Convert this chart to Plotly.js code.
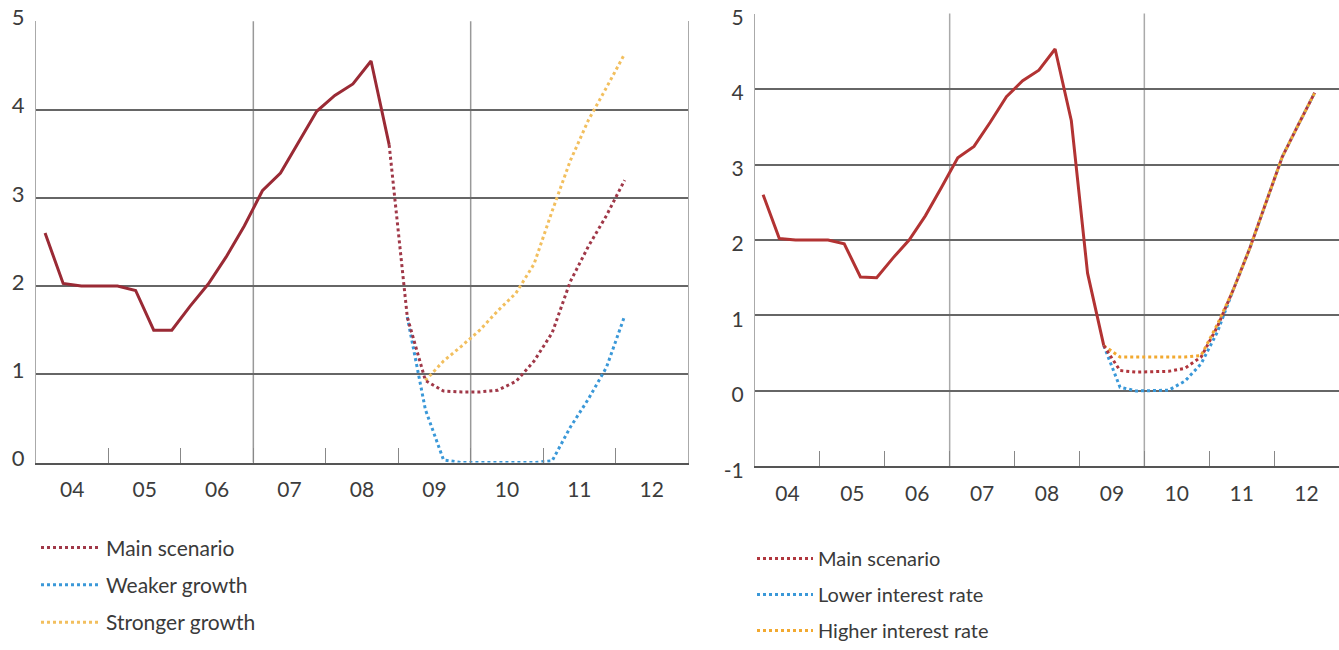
<!DOCTYPE html>
<html>
<head>
<meta charset="utf-8">
<script src="https://cdn.plot.ly/plotly-3.0.1.min.js"></script>
<style>
  html, body { margin: 0; padding: 0; background: #ffffff; }
  #chart { width: 1339px; height: 650px; }
</style>
</head>
<body>
<div id="chart"></div>
<script>
// ---------------- DATA ----------------
// Quarter labels (values plotted at mid-quarter)
var histLeftQuarters = ["2004Q1","2004Q2","2004Q3","2004Q4","2005Q1","2005Q2","2005Q3","2005Q4",
                        "2006Q1","2006Q2","2006Q3","2006Q4","2007Q1","2007Q2","2007Q3","2007Q4",
                        "2008Q1","2008Q2","2008Q3","2008Q4"];
var histLeft = [2.6, 2.03, 2.0, 2.0, 2.0, 1.95, 1.5, 1.5,
                1.77, 2.02, 2.33, 2.68, 3.08, 3.28, 3.63, 3.98,
                4.16, 4.29, 4.55, 3.6];

var mainLeftQuarters = ["2008Q4","2009Q1","2009Q2","2009Q3","2009Q4","2010Q1","2010Q2","2010Q3","2010Q4",
                        "2011Q1","2011Q2","2011Q3","2011Q4","2012Q1"];
var mainLeft = [3.6, 1.65, 0.93, 0.81, 0.8, 0.8, 0.82, 0.92, 1.15, 1.47, 2.05, 2.45, 2.8, 3.2];

var weakerQuarters = ["2009Q1","2009Q2","2009Q3","2009Q4","2010Q1","2010Q2","2010Q3","2010Q4",
                      "2011Q1","2011Q2","2011Q3","2011Q4","2012Q1"];
var weakerGrowth = [1.65, 0.6, 0.03, 0, 0, 0, 0, 0, 0.02, 0.4, 0.72, 1.08, 1.66];

var strongerQuarters = ["2009Q2","2009Q3","2009Q4","2010Q1","2010Q2","2010Q3","2010Q4",
                        "2011Q1","2011Q2","2011Q3","2011Q4","2012Q1"];
var strongerGrowth = [0.93, 1.15, 1.32, 1.5, 1.72, 1.92, 2.25, 2.85, 3.42, 3.88, 4.25, 4.63];

var histRightQuarters = ["2004Q1","2004Q2","2004Q3","2004Q4","2005Q1","2005Q2","2005Q3","2005Q4",
                         "2006Q1","2006Q2","2006Q3","2006Q4","2007Q1","2007Q2","2007Q3","2007Q4",
                         "2008Q1","2008Q2","2008Q3","2008Q4","2009Q1","2009Q2"];
var histRight = [2.6, 2.02, 2.0, 2.0, 2.0, 1.95, 1.51, 1.5,
                 1.76, 2.0, 2.32, 2.7, 3.09, 3.24, 3.56, 3.9,
                 4.11, 4.25, 4.53, 3.58, 1.56, 0.6];

var scenRightQuarters = ["2009Q2","2009Q3","2009Q4","2010Q1","2010Q2","2010Q3","2010Q4",
                         "2011Q1","2011Q2","2011Q3","2011Q4","2012Q1","2012Q2","2012Q3"];
var mainRight   = [0.6, 0.27, 0.25, 0.25, 0.26, 0.3, 0.45, 0.85, 1.35, 1.89, 2.5, 3.1, 3.53, 3.95];
var lowerRate   = [0.6, 0.05, 0, 0, 0.01, 0.13, 0.36, 0.78, 1.35, 1.89, 2.5, 3.1, 3.53, 3.95];
var higherRate  = [0.6, 0.45, 0.45, 0.45, 0.45, 0.45, 0.47, 0.88, 1.35, 1.89, 2.5, 3.1, 3.53, 3.95];

var yearLabels = ["04","05","06","07","08","09","10","11","12"];
var leftYTicks = [0, 1, 2, 3, 4, 5];
var leftYLabels = ["0","1","2","3","4","5"];
var rightYTicks = [-1, 0, 1, 2, 3, 4, 5];
var rightYLabels = ["-1","0","1","2","3","4","5"];
var firstYear = 2004;
var gridYears = [2007, 2010];

// ---------------- HELPERS ----------------
function qToX(q) { // "2004Q1" -> mid-quarter decimal year
  var y = parseInt(q.slice(0, 4), 10), n = parseInt(q.slice(5), 10);
  return y + (n - 0.5) / 4;
}
function xs(arr) { return arr.map(qToX); }

var labelPos = yearLabels.map(function (_, i) { return firstYear + i + 0.5; });
var boundaries = yearLabels.slice(1).map(function (_, i) { return firstYear + i + 1; });
var xRange = [firstYear, firstYear + yearLabels.length];

var W = 1339, H = 650;
function px(x) { return x / W; }
function py(y) { return 1 - y / H; }

var FONT = "Lato, 'Open Sans', sans-serif";
var dotDash = "3px,3px";

var cSolidL = "#9a2a35", cMainL = "#a03848", cBlue = "#3a98d8", cOrangeL = "#f2bf5e";
var cSolidR = "#b23333", cMainR = "#b0363d", cOrangeR = "#f2a930";

// ---------------- TRACES ----------------
var traces = [
  // left panel
  { x: xs(histLeftQuarters), y: histLeft, xaxis: "x", yaxis: "y", mode: "lines",
    line: { color: cSolidL, width: 3 }, showlegend: false, hoverinfo: "skip" },
  { x: xs(weakerQuarters), y: weakerGrowth, xaxis: "x", yaxis: "y", mode: "lines", name: "Weaker growth",
    line: { color: cBlue, width: 3, dash: dotDash }, legend: "legend", legendgroup: "l2", legendrank: 2 },
  { x: xs(strongerQuarters), y: strongerGrowth, xaxis: "x", yaxis: "y", mode: "lines", name: "Stronger growth",
    line: { color: cOrangeL, width: 3, dash: dotDash }, legend: "legend", legendgroup: "l3", legendrank: 3 },
  { x: xs(mainLeftQuarters), y: mainLeft, xaxis: "x", yaxis: "y", mode: "lines", name: "Main scenario",
    line: { color: cMainL, width: 3, dash: dotDash }, legend: "legend", legendgroup: "l1", legendrank: 1 },
  // right panel
  { x: xs(histRightQuarters), y: histRight, xaxis: "x2", yaxis: "y2", mode: "lines",
    line: { color: cSolidR, width: 3 }, showlegend: false, hoverinfo: "skip" },
  { x: xs(scenRightQuarters), y: lowerRate, xaxis: "x2", yaxis: "y2", mode: "lines", name: "Lower interest rate",
    line: { color: cBlue, width: 3, dash: dotDash }, legend: "legend2", legendgroup: "r2", legendrank: 2 },
  { x: xs(scenRightQuarters), y: higherRate, xaxis: "x2", yaxis: "y2", mode: "lines", name: "Higher interest rate",
    line: { color: cOrangeR, width: 3, dash: dotDash }, legend: "legend2", legendgroup: "r3", legendrank: 3 },
  { x: xs(scenRightQuarters), y: mainRight, xaxis: "x2", yaxis: "y2", mode: "lines", name: "Main scenario",
    line: { color: cMainR, width: 3, dash: dotDash }, legend: "legend2", legendgroup: "r1", legendrank: 1 }
];

// ---------------- LAYOUT ----------------
function xAxis(domain, anchor, fsize) {
  return {
    domain: domain, anchor: anchor, range: xRange, fixedrange: true,
    tickmode: "array", tickvals: labelPos, ticktext: yearLabels, ticks: "",
    tickfont: { family: FONT, size: fsize, color: "#3c3c3c" }, ticklabelstandoff: 7,
    showgrid: false, zeroline: false,
    showline: true, linecolor: "#555", linewidth: 2,
    minor: { tickmode: "array", tickvals: boundaries, ticks: "inside", ticklen: 15,
             tickcolor: "#888", tickwidth: 1, showgrid: false }
  };
}
function yAxis(domain, anchor, range, vals, labels, shift, fsize) {
  return {
    domain: domain, anchor: anchor, range: range, fixedrange: true,
    tickmode: "array", tickvals: vals, ticktext: labels, ticks: "",
    tickfont: { family: FONT, size: fsize, color: "#3c3c3c" },
    ticklabelshift: shift, ticklabelstandoff: 6, ticklabeloverflow: "allow",
    showgrid: true, gridcolor: "#666", gridwidth: 2, zeroline: false,
    showline: true, mirror: true, linecolor: "#aaa", linewidth: 1
  };
}

var shapes = [];
gridYears.forEach(function (g) {
  shapes.push({ type: "line", xref: "x", yref: "y domain", x0: g, x1: g, y0: 0, y1: 1,
                line: { color: "#999", width: 1.5 }, layer: "below" });
  shapes.push({ type: "line", xref: "x2", yref: "y2 domain", x0: g, x1: g, y0: 0, y1: 1,
                line: { color: "#aaa", width: 1.5 }, layer: "below" });
});

var layout = {
  width: W, height: H,
  margin: { l: 0, r: 0, t: 0, b: 0, pad: 0 },
  paper_bgcolor: "#ffffff", plot_bgcolor: "#ffffff",
  font: { family: FONT, color: "#333" },
  showlegend: true,
  xaxis:  xAxis([px(36), px(688)], "y", 21),
  yaxis:  yAxis([py(478), py(22)], "x", [0, 5], leftYTicks, leftYLabels, -4, 22),
  xaxis2: xAxis([px(755), px(1339)], "y2", 21),
  yaxis2: yAxis([py(482), py(14)], "x2", [-1, 5], rightYTicks, rightYLabels, 4, 21),
  shapes: shapes,
  legend: {
    x: px(36), y: py(545), xanchor: "left", yanchor: "top",
    traceorder: "grouped", tracegroupgap: 7, itemwidth: 60,
    font: { family: FONT, size: 21, color: "#3a3a3a" }, bgcolor: "rgba(0,0,0,0)"
  },
  legend2: {
    x: px(752), y: py(557), xanchor: "left", yanchor: "top",
    traceorder: "grouped", tracegroupgap: 7, itemwidth: 56,
    font: { family: FONT, size: 20, color: "#3a3a3a" }, bgcolor: "rgba(0,0,0,0)"
  }
};

Plotly.newPlot("chart", traces, layout, { staticPlot: true, displayModeBar: false });
</script>
</body>
</html>
